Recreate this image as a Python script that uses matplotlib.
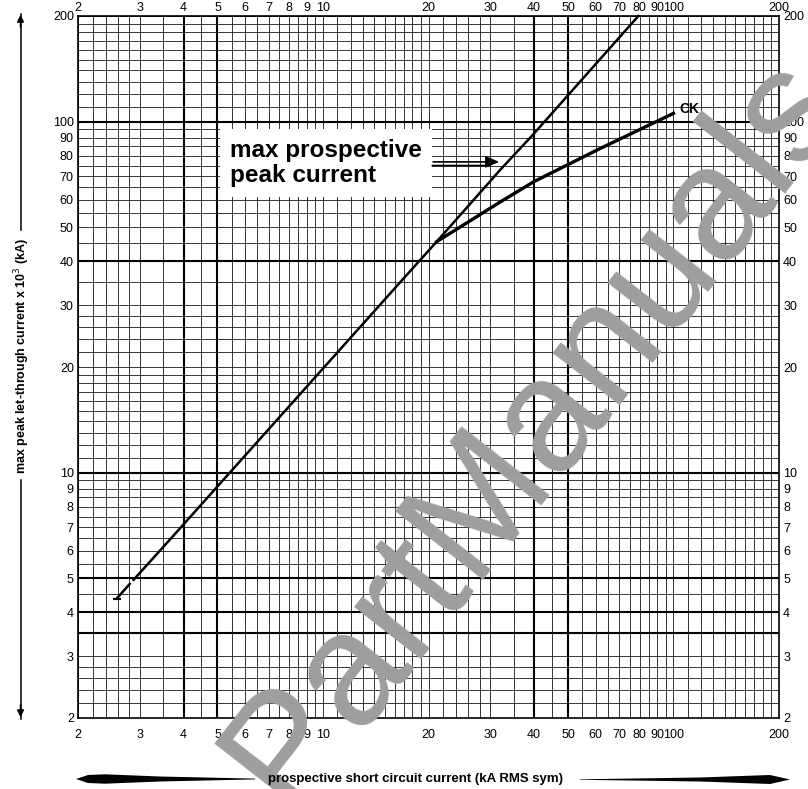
import matplotlib
matplotlib.use("Agg")
import matplotlib.pyplot as plt
import numpy as np
from matplotlib.lines import Line2D
from matplotlib.patches import Polygon, FancyArrowPatch
from matplotlib.ticker import NullLocator

# ---------------------------------------------------------------------------
# Data
# ---------------------------------------------------------------------------

x_ticks = [2, 3, 4, 5, 6, 7, 8, 9, 10, 20, 30, 40, 50, 60, 70, 80, 90, 100, 200]
y_ticks = [2, 3, 4, 5, 6, 7, 8, 9, 10, 20, 30, 40, 50, 60, 70, 80, 90, 100, 200]

# max prospective peak current (kA RMS sym -> kA peak); the scan has a
# small break in the line just under 5 kA
peak_x = [2.58, 2.81, np.nan, 2.88, 3.66, 17.0, 21.1, 32.0, 39.8, 79.4]
peak_y = [4.38, 4.82, np.nan, 4.95, 6.45, 35.8, 45.5, 72.8, 92.0, 200.0]

# CK let-through curve
ck_x = [21.1, 32.0, 40.0, 62.0, 100.0]
ck_y = [45.5, 59.0, 67.5, 84.0, 105.6]

W, H = 808, 789


def fpx(x, y):
    """pixel position measured from the top-left -> figure fraction"""
    return x / W, 1 - y / H


def grid_values():
    vals = []
    for m in (1, 10, 100):
        vals += list(np.arange(1.0, 2.0, 0.1) * m)
        vals += list(np.arange(2.0, 3.0, 0.2) * m)
        vals += list(np.arange(3.0, 10.0, 0.5) * m)
    vals.append(200.0)
    return [round(v, 3) for v in vals if 2 - 1e-9 <= v <= 200 + 1e-9]


def tapered(points, **kw):
    poly = Polygon([fpx(x, y) for x, y in points], closed=True,
                   transform=fig.transFigure, **kw)
    fig.add_artist(poly)


plt.rcParams["font.family"] = ["Liberation Sans", "DejaVu Sans"]

fig = plt.figure(figsize=(W / 100, H / 100), dpi=100)
fig.patch.set_facecolor("white")

# watermark sits under everything
fig.text(*fpx(535, 430), "PartManuals", fontsize=116, color="#9e9e9e",
         rotation=52, ha="center", va="center", rotation_mode="anchor",
         zorder=0)

l, b = fpx(78, 718)
r, t = fpx(779, 16)
ax = fig.add_axes([l, b, r - l, t - b])
ax.patch.set_alpha(0)
ax.set_xscale("log")
ax.set_yscale("log")
ax.set_xlim(2, 200)
ax.set_ylim(2, 200)

# ---------------------------------------------------------------------------
# Log-log graph paper
# ---------------------------------------------------------------------------

heavy_x = {4, 5, 40, 50}
heavy_y = {3.5, 4, 5, 10, 40, 100}
for v in grid_values():
    ax.axvline(v, color="black", lw=1.5 if v in heavy_x else 0.65,
               alpha=1 if v in heavy_x else 0.85, zorder=1)
    ax.axhline(v, color="black", lw=1.5 if v in heavy_y else 0.65,
               alpha=1 if v in heavy_y else 0.85, zorder=1)

for s in ax.spines.values():
    s.set_linewidth(1.2)

ax.set_xticks(x_ticks)
ax.set_xticklabels([str(v) for v in x_ticks])
ax.set_yticks(y_ticks)
ax.set_yticklabels([str(v) for v in y_ticks])
ax.xaxis.set_minor_locator(NullLocator())
ax.yaxis.set_minor_locator(NullLocator())
ax.tick_params(axis="x", which="both", length=0, labelsize=9, pad=8)
ax.tick_params(axis="y", which="both", length=0, labelsize=9, pad=3,
               right=True, labelright=True)

# top labels sit closer to the frame than the bottom ones
top = ax.twiny()
top.set_xscale("log")
top.set_xlim(2, 200)
top.set_xticks(x_ticks)
top.set_xticklabels([str(v) for v in x_ticks])
top.xaxis.set_minor_locator(NullLocator())
top.tick_params(which="both", length=0, labelsize=9, pad=1.5)
for s in top.spines.values():
    s.set_visible(False)

# ---------------------------------------------------------------------------
# Curves
# ---------------------------------------------------------------------------

ax.plot(peak_x, peak_y, color="black", lw=1.8, zorder=4, clip_on=False)
ax.plot(peak_x[:1], peak_y[:1], marker="_", ms=6, mew=1.5, color="black",
        zorder=4)
ax.plot(ck_x, ck_y, color="black", lw=2.4, zorder=4,
        solid_joinstyle="round")
ax.annotate("CK", (ck_x[-1], ck_y[-1]), xytext=(6, 4),
            textcoords="offset pixels", fontsize=10, fontweight="bold",
            ha="left", va="center", zorder=5)

ax.text(*fpx(230, 163), "max prospective\npeak current",
        transform=fig.transFigure, fontsize=17.5, fontweight="bold",
        ha="left", va="center", linespacing=1.12, zorder=5,
        bbox=dict(facecolor="white", edgecolor="none", pad=7))
ax.annotate("", xy=(31.8, 76.8), xytext=(-66, 0),
            textcoords="offset pixels", zorder=5,
            arrowprops=dict(arrowstyle="-|>,head_length=0.8,head_width=0.35",
                            color="black", lw=1.2, shrinkA=0, shrinkB=0))
ax.annotate("", xy=(30.0, 75.0), xytext=(-58, 0),
            textcoords="offset pixels", zorder=5,
            arrowprops=dict(arrowstyle="-", color="black", lw=1.2,
                            shrinkA=0, shrinkB=0))

# ---------------------------------------------------------------------------
# Axis titles with their arrow decorations
# ---------------------------------------------------------------------------

fig.text(*fpx(416, 779), "prospective short circuit current (kA RMS sym)",
         fontsize=9.5, fontweight="bold", ha="center", va="center")
tapered([(76, 779), (88, 775), (105, 774.3), (160, 776.5), (255, 778.6),
         (255, 779.4), (160, 781.5), (105, 783.7), (88, 783)],
        color="black", lw=0)
tapered([(580, 779.3), (700, 777.5), (770, 775), (790, 779.5), (770, 784),
         (700, 781.5), (580, 779.8)], color="black", lw=0)

fig.text(*fpx(22, 356), "max peak let-through current x 10$^3$ (kA)",
         fontsize=9, fontweight="bold", ha="center", va="center",
         rotation=90)
for y0, y1 in [(14, 230), (480, 719)]:
    fig.add_artist(Line2D([fpx(20.5, y0)[0], fpx(20.5, y1)[0]],
                          [fpx(20.5, y0)[1], fpx(20.5, y1)[1]],
                          transform=fig.transFigure, color="black", lw=1.1))
for y_tip, y_tail in [(12, 30), (720, 702)]:
    fig.add_artist(FancyArrowPatch(
        fpx(20.5, y_tail), fpx(20.5, y_tip), transform=fig.transFigure,
        arrowstyle="-|>,head_length=4,head_width=2", color="black", lw=1.1))

fig.savefig("out.png", dpi=100)
